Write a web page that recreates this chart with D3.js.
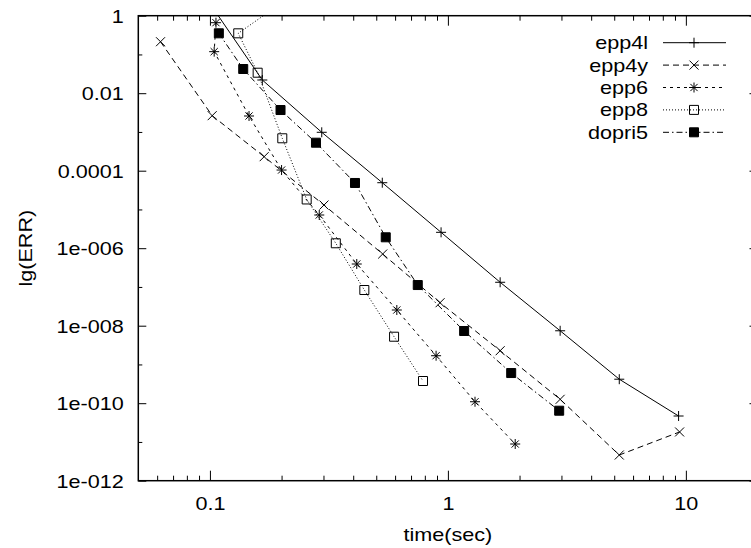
<!DOCTYPE html>
<html>
<head>
<meta charset="utf-8">
<script src="https://cdn.jsdelivr.net/npm/d3@7"></script>
<style>
  body { margin: 0; background: #fff; }
  text { font-family: "Liberation Sans", Arial, sans-serif; fill: #000; }
</style>
</head>
<body>
<div id="container"></div>
<script>
/* DATA */
const seriesNames = ["epp4l", "epp4y", "epp6", "epp8", "dopri5"];

const epp4lTime = [0.0914, 0.166, 0.295, 0.530, 0.936, 1.658, 2.963, 5.25, 9.32];
const epp4lErr  = [4.6, 0.0219, 9.8e-4, 4.9e-5, 2.57e-6, 1.32e-7, 7.4e-9, 4.16e-10, 4.67e-11];

const epp4yTime = [0.0620, 0.1022, 0.169, 0.3015, 0.532, 0.927, 1.658, 2.963, 5.25, 9.41];
const epp4yErr  = [0.213, 2.63e-3, 2.30e-4, 1.30e-5, 7.08e-7, 3.92e-8, 2.26e-9, 1.26e-10, 4.6e-12, 1.81e-11];

const epp6Time = [0.106, 0.1042, 0.146, 0.200, 0.288, 0.414, 0.610, 0.892, 1.30, 1.918];
const epp6Err  = [0.66, 0.118, 2.58e-3, 1.04e-4, 7.19e-6, 3.91e-7, 2.54e-8, 1.68e-9, 1.09e-10, 8.85e-12];

const epp8Time = [0.239, 0.1315, 0.1587, 0.2014, 0.255, 0.338, 0.4455, 0.594, 0.786];
const epp8Err  = [4.6, 0.351, 0.0338, 6.86e-4, 1.81e-5, 1.34e-6, 8.34e-8, 5.2e-9, 3.74e-10];

const dopri5Time = [0.109, 0.138, 0.198, 0.279, 0.407, 0.548, 0.747, 1.170, 1.845, 2.935];
const dopri5Err  = [0.351, 0.0421, 3.68e-3, 5.28e-4, 4.82e-5, 1.91e-6, 1.12e-7, 7.3e-9, 6.0e-10, 6.4e-11];

const xMajorTicks = [0.1, 1, 10];
const xTickLabels = ["0.1", "1", "10"];
const xMinorTicks = [0.06, 0.07, 0.08, 0.09, 0.2, 0.3, 0.4, 0.5, 0.6, 0.7, 0.8, 0.9,
                     2, 3, 4, 5, 6, 7, 8, 9];
const yMajorTicks = [1, 1e-2, 1e-4, 1e-6, 1e-8, 1e-10, 1e-12];
const yTickLabels = ["1", "0.01", "0.0001", "1e-006", "1e-008", "1e-010", "1e-012"];
const yMinorTicks = [1e-1, 1e-3, 1e-5, 1e-7, 1e-9, 1e-11];

/* CONSTANTS */
const width = 751,
  height = 548,
  plot = { left: 138.3, right: 757.5, top: 15.7, bottom: 480.7 },
  fontSize = "18px",
  stretchX = 1.2;  // the original lettering is wider than Arial

const series = [
  { name: seriesNames[0], time: epp4lTime, err: epp4lErr, dash: null, marker: "plus" },
  { name: seriesNames[1], time: epp4yTime, err: epp4yErr, dash: "6,4", marker: "cross" },
  { name: seriesNames[2], time: epp6Time, err: epp6Err, dash: "3,4", marker: "star" },
  { name: seriesNames[3], time: epp8Time, err: epp8Err, dash: "1,2", marker: "box" },
  { name: seriesNames[4], time: dopri5Time, err: dopri5Err, dash: "6,3,1.5,3", marker: "fbox" }
];

const markerPath = {
  plus: "M-5,0H5M0,-5V5",
  cross: "M-4.5,-4.5L4.5,4.5M-4.5,4.5L4.5,-4.5",
  star: "M-5,0H5M0,-5V5M-3.6,-3.6L3.6,3.6M-3.6,3.6L3.6,-3.6",
  box: "M-4.5,-4.5H4.5V4.5H-4.5Z",
  fbox: "M-4.5,-4.5H4.5V4.5H-4.5Z"
};

// widen text around its anchor point
function stretch(sel) {
  sel.each(function () {
    const t = d3.select(this);
    const x = +t.attr("x") || 0, y = +t.attr("y") || 0;
    t.attr("x", null).attr("y", null)
      .attr("transform", `translate(${x},${y}) scale(${stretchX},1)`);
  });
}

/* SCALES */
const xScale = d3.scaleLog()
  .domain([0.05, 20])
  .range([plot.left, plot.right]);

const yScale = d3.scaleLog()
  .domain([1e-12, 1])
  .range([plot.bottom, plot.top]);

/* SVG */
const svg = d3.select("#container")
  .append("svg")
  .attr("width", width)
  .attr("height", height);

svg.append("clipPath")
  .attr("id", "clip")
  .append("rect")
  .attr("x", plot.left)
  .attr("y", plot.top)
  .attr("width", plot.right - plot.left)
  .attr("height", plot.bottom - plot.top);

// axes (ticks point inward, gnuplot style)
function drawAxis(axis, tx, ty) {
  const g = svg.append("g")
    .attr("transform", `translate(${tx},${ty})`)
    .call(axis);
  g.select(".domain").remove();
  g.selectAll("line").attr("stroke", "#000").attr("stroke-width", 1);
  g.selectAll("text").style("font-size", fontSize).attr("fill", "#000");
  return g;
}

const xAxisG = drawAxis(d3.axisBottom(xScale).tickValues(xMajorTicks).tickSize(-10)
  .tickFormat((d, i) => xTickLabels[i]), 0, plot.bottom);
xAxisG.selectAll("text").attr("y", 29.3).attr("dy", null).call(stretch);
drawAxis(d3.axisBottom(xScale).tickValues(xMinorTicks).tickSize(-5).tickFormat(""), 0, plot.bottom);
drawAxis(d3.axisTop(xScale).tickValues(xMajorTicks).tickSize(-10).tickFormat(""), 0, plot.top);
drawAxis(d3.axisTop(xScale).tickValues(xMinorTicks).tickSize(-5).tickFormat(""), 0, plot.top);

const yAxisG = drawAxis(d3.axisLeft(yScale).tickValues(yMajorTicks).tickSize(-8)
  .tickFormat((d, i) => yTickLabels[i]), plot.left, 0);
yAxisG.selectAll("text").attr("x", -14.5).attr("dy", "0.36em").call(stretch);
drawAxis(d3.axisLeft(yScale).tickValues(yMinorTicks).tickSize(-4).tickFormat(""), plot.left, 0);
drawAxis(d3.axisRight(yScale).tickValues(yMajorTicks).tickSize(-8).tickFormat(""), plot.right, 0);
drawAxis(d3.axisRight(yScale).tickValues(yMinorTicks).tickSize(-4).tickFormat(""), plot.right, 0);

// frame
svg.append("rect")
  .attr("x", plot.left)
  .attr("y", plot.top)
  .attr("width", plot.right - plot.left)
  .attr("height", plot.bottom - plot.top)
  .attr("fill", "none")
  .attr("stroke", "#000")
  .attr("stroke-width", 1.5);

// axis titles
svg.append("text")
  .attr("transform", `translate(${(plot.left + plot.right) / 2},541) scale(${stretchX},1)`)
  .attr("text-anchor", "middle")
  .style("font-size", fontSize)
  .text("time(sec)");

svg.append("text")
  .attr("transform", `translate(32,${(plot.top + plot.bottom) / 2}) rotate(-90) scale(${stretchX},1)`)
  .attr("text-anchor", "middle")
  .style("font-size", fontSize)
  .text("lg(ERR)");

/* LINES AND POINTS */
const line = d3.line()
  .x(d => xScale(d[0]))
  .y(d => yScale(d[1]));

const dataG = svg.append("g").attr("clip-path", "url(#clip)");

series.forEach(s => {
  const pts = s.time.map((t, i) => [t, s.err[i]]);
  dataG.append("path")
    .datum(pts)
    .attr("d", line)
    .attr("fill", "none")
    .attr("stroke", "#000")
    .attr("stroke-width", 1)
    .attr("stroke-dasharray", s.dash);

  dataG.selectAll(null)
    .data(pts)
    .join("path")
    .attr("transform", d => `translate(${xScale(d[0])},${yScale(d[1])})`)
    .attr("d", markerPath[s.marker])
    .attr("fill", s.marker === "fbox" ? "#000" : "none")
    .attr("stroke", "#000")
    .attr("stroke-width", 1);
});

/* LEGEND */
const legendY = d3.scaleLinear()
  .domain([0, 4])
  .range([42.7, 132.3]);

const legend = svg.append("g")
  .selectAll("g")
  .data(series)
  .join("g")
  .attr("transform", (d, i) => `translate(0,${legendY(i)})`);

legend.append("text")
  .attr("transform", `translate(648,6.4) scale(${stretchX},1)`)
  .attr("text-anchor", "end")
  .style("font-size", fontSize)
  .text(d => d.name);

legend.append("line")
  .attr("x1", 663)
  .attr("x2", 726)
  .attr("stroke", "#000")
  .attr("stroke-width", 1)
  .attr("stroke-dasharray", d => d.dash);

legend.append("path")
  .attr("transform", "translate(694,0)")
  .attr("d", d => markerPath[d.marker])
  .attr("fill", d => d.marker === "fbox" ? "#000" : "none")
  .attr("stroke", "#000")
  .attr("stroke-width", 1);
</script>
</body>
</html>
